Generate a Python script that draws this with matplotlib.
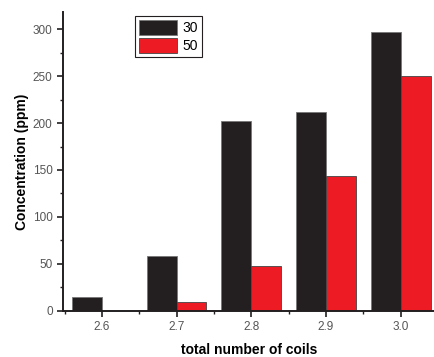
import numpy as np
import matplotlib.pyplot as plt
from matplotlib.ticker import MultipleLocator

plt.rcParams['font.family'] = ['Liberation Sans', 'DejaVu Sans']

# data
coils = [2.6, 2.7, 2.8, 2.9, 3.0]
conc_30 = [15, 58, 202, 212, 297]
conc_50 = [0, 9, 48, 144, 250]
tick_labels = ['2.6', '2.7', '2.8', '2.9', '3.0']

fig = plt.figure(figsize=(4.35, 3.57), dpi=100)
ax = fig.add_axes([0.145, 0.129, 0.855, 0.837])

x = np.array(coils)
w = 0.04
ax.bar(x - w / 2, conc_30, width=w, color='#231f20', edgecolor='#777777', linewidth=0.6, label='30')
ax.bar(x + w / 2, conc_50, width=w, color='#ed1c24', edgecolor='#444444', linewidth=0.6, label='50')

ax.set_xlim(2.548, 3.046)
ax.set_ylim(0, 318)
ax.set_xticks(coils)
ax.set_xticklabels(tick_labels)
ax.xaxis.set_minor_locator(MultipleLocator(0.05))
ax.yaxis.set_major_locator(MultipleLocator(50))
ax.yaxis.set_minor_locator(MultipleLocator(25))

for s in ['top', 'right']:
    ax.spines[s].set_visible(False)
for s in ['left', 'bottom']:
    ax.spines[s].set_linewidth(1.4)
    ax.spines[s].set_color('#231f20')

ax.tick_params(which='major', direction='out', length=4, width=1.2, labelsize=8.5,
               labelcolor='#555555', color='#231f20')
ax.tick_params(which='minor', direction='out', length=2.5, width=1.0, color='#231f20')

ax.set_xlabel('total number of coils', fontsize=10, fontweight='bold', labelpad=7)
ax.set_ylabel('Concentration (ppm)', fontsize=10, fontweight='bold', labelpad=3)

leg = ax.legend(loc='upper left', bbox_to_anchor=(0.175, 1.01), fontsize=10,
                handlelength=2.7, handleheight=1.3, borderpad=0.3, labelspacing=0.15,
                handletextpad=0.4, fancybox=False, framealpha=1)
leg.get_frame().set_edgecolor('#231f20')
leg.get_frame().set_linewidth(0.8)

fig.savefig('out.png', dpi=100)
